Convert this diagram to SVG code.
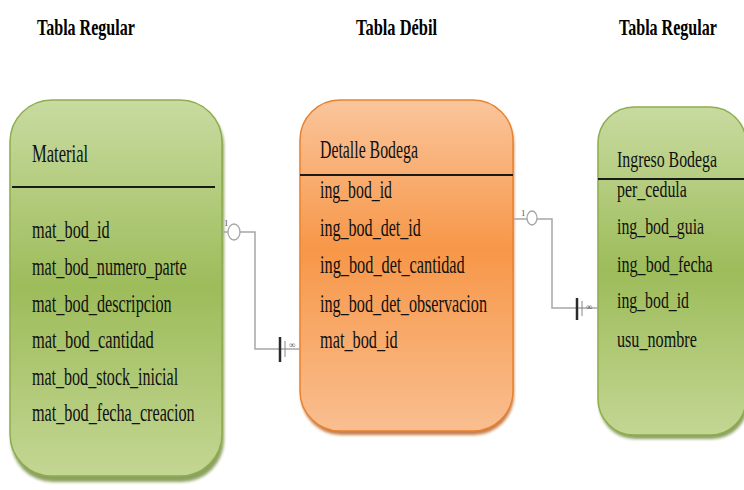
<svg xmlns="http://www.w3.org/2000/svg" width="744" height="490" viewBox="0 0 744 490">
<defs>
<linearGradient id="gGreen" x1="0" y1="0" x2="0" y2="1">
<stop offset="0" stop-color="#c8dba0"/>
<stop offset="0.5" stop-color="#9dbc5a"/>
<stop offset="1" stop-color="#c3d693"/>
</linearGradient>
<linearGradient id="gOrange" x1="0" y1="0" x2="0" y2="1">
<stop offset="0" stop-color="#fac59c"/>
<stop offset="0.45" stop-color="#f79748"/>
<stop offset="1" stop-color="#f9be90"/>
</linearGradient>
<filter id="sh" x="-10%" y="-10%" width="120%" height="120%">
<feGaussianBlur stdDeviation="1.5"/>
</filter>
</defs>
<style>
.hdr{font-family:"Liberation Serif",serif;font-weight:bold;font-size:23px;fill:#000}
.t{font-family:"Liberation Serif",serif;font-size:25px;fill:#111}
.tr{font-family:"Liberation Serif",serif;font-size:24px;fill:#111}
.sep{stroke:#1a1a1a;stroke-width:2}
.conn{fill:none;stroke:#a6a6a6;stroke-width:1.5}
.lbl{font-family:"Liberation Serif",serif;font-size:9px;fill:#555}
</style>
<rect width="744" height="490" fill="#ffffff"/>
<g id="headers">
<g transform="translate(37,0) scale(0.73,1)"><text class="hdr" x="0" y="35" textLength="134" lengthAdjust="spacingAndGlyphs">Tabla Regular</text></g>
<g transform="translate(356,0) scale(0.73,1)"><text class="hdr" x="0" y="35" textLength="111" lengthAdjust="spacingAndGlyphs">Tabla Débil</text></g>
<g transform="translate(619,0) scale(0.73,1)"><text class="hdr" x="0" y="35" textLength="134" lengthAdjust="spacingAndGlyphs">Tabla Regular</text></g>
</g>
<g id="material">
<rect x="11" y="104" width="213" height="378" rx="42" fill="#6f8a37" filter="url(#sh)" opacity="0.8"/>
<rect x="10" y="100" width="212" height="376" rx="42" fill="url(#gGreen)" stroke="#8fad4e" stroke-width="1.5"/>
<line class="sep" x1="12" y1="187" x2="215" y2="187"/>
<g transform="translate(32,0) scale(0.72,1)">
<text class="t" x="0" y="162" textLength="78" lengthAdjust="spacingAndGlyphs">Material</text>
<text class="t" x="0" y="238" textLength="108" lengthAdjust="spacingAndGlyphs">mat_bod_id</text>
<text class="t" x="0" y="275" textLength="215" lengthAdjust="spacingAndGlyphs">mat_bod_numero_parte</text>
<text class="t" x="0" y="312" textLength="194" lengthAdjust="spacingAndGlyphs">mat_bod_descripcion</text>
<text class="t" x="0" y="348" textLength="169" lengthAdjust="spacingAndGlyphs">mat_bod_cantidad</text>
<text class="t" x="0" y="385" textLength="203" lengthAdjust="spacingAndGlyphs">mat_bod_stock_inicial</text>
<text class="t" x="0" y="421" textLength="226" lengthAdjust="spacingAndGlyphs">mat_bod_fecha_creacion</text>
</g>
</g>
<g id="detalle">
<rect x="301" y="104" width="213" height="331" rx="40" fill="#b85d1c" filter="url(#sh)" opacity="0.8"/>
<rect x="300" y="100" width="213" height="331" rx="40" fill="url(#gOrange)" stroke="#e8822f" stroke-width="1.5"/>
<line class="sep" x1="300" y1="175" x2="513" y2="175"/>
<g transform="translate(320,0) scale(0.72,1)">
<text class="t" x="0" y="158" textLength="136" lengthAdjust="spacingAndGlyphs">Detalle Bodega</text>
<text class="t" x="0" y="198" textLength="100" lengthAdjust="spacingAndGlyphs">ing_bod_id</text>
<text class="t" x="0" y="236" textLength="140" lengthAdjust="spacingAndGlyphs">ing_bod_det_id</text>
<text class="t" x="0" y="273" textLength="201" lengthAdjust="spacingAndGlyphs">ing_bod_det_cantidad</text>
<text class="t" x="0" y="312" textLength="232" lengthAdjust="spacingAndGlyphs">ing_bod_det_observacion</text>
<text class="t" x="0" y="348" textLength="108" lengthAdjust="spacingAndGlyphs">mat_bod_id</text>
</g>
</g>
<g id="ingreso">
<rect x="599" y="111" width="149" height="328" rx="36" fill="#6f8a37" filter="url(#sh)" opacity="0.8"/>
<rect x="598" y="107" width="148" height="328" rx="36" fill="url(#gGreen)" stroke="#8fad4e" stroke-width="1.5"/>
<line class="sep" x1="598" y1="179" x2="744" y2="179"/>
<g transform="translate(617,0) scale(0.72,1)">
<text class="tr" x="0" y="167" textLength="139" lengthAdjust="spacingAndGlyphs">Ingreso Bodega</text>
<text class="tr" x="0" y="197" textLength="97" lengthAdjust="spacingAndGlyphs">per_cedula</text>
<text class="tr" x="0" y="234" textLength="121" lengthAdjust="spacingAndGlyphs">ing_bod_guia</text>
<text class="tr" x="0" y="272" textLength="133" lengthAdjust="spacingAndGlyphs">ing_bod_fecha</text>
<text class="tr" x="0" y="308" textLength="100" lengthAdjust="spacingAndGlyphs">ing_bod_id</text>
<text class="tr" x="0" y="347" textLength="111" lengthAdjust="spacingAndGlyphs">usu_nombre</text>
</g>
</g>
<g id="connectors">
<g id="c1">
<polyline class="conn" points="222,232 255,232 255,349 300,349"/>
<ellipse cx="234" cy="232" rx="6" ry="8" fill="#ffffff" stroke="#a6a6a6" stroke-width="1.3"/>
<text class="lbl" x="224" y="226">1</text>
<line x1="280" y1="337" x2="280" y2="362" stroke="#2a2a2a" stroke-width="2.5"/>
<line x1="285" y1="341" x2="285" y2="357" stroke="#888" stroke-width="1"/>
<text class="lbl" x="289" y="348">∞</text>
</g>
<g id="c2">
<polyline class="conn" points="513,219 552,219 552,308 598,308"/>
<ellipse cx="532" cy="218" rx="5" ry="7" fill="#ffffff" stroke="#a6a6a6" stroke-width="1.3"/>
<text class="lbl" x="521" y="216">1</text>
<line x1="577" y1="298" x2="577" y2="320" stroke="#2a2a2a" stroke-width="2.5"/>
<line x1="582" y1="301" x2="582" y2="316" stroke="#888" stroke-width="1"/>
<text class="lbl" x="586" y="310">∞</text>
</g>
</g>
</svg>
